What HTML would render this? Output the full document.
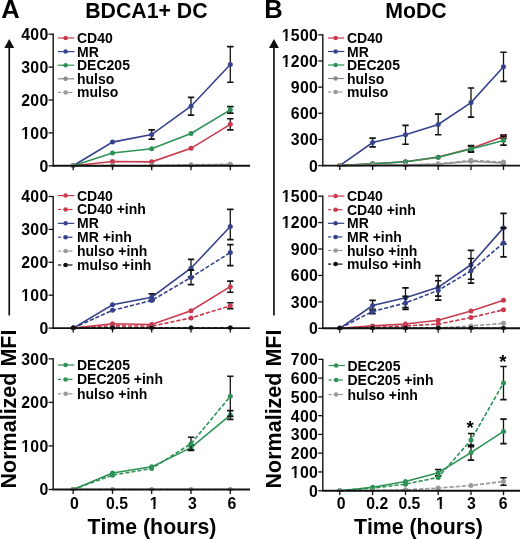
<!DOCTYPE html>
<html><head><meta charset="utf-8"><style>
html,body{margin:0;padding:0;background:#fff;}
body{width:520px;height:539px;overflow:hidden;font-family:"Liberation Sans", sans-serif;}
svg{display:block;filter:blur(0.3px);} text{font-kerning:none;}
</style></head><body>
<svg width="520" height="539" viewBox="0 0 520 539" font-family='"Liberation Sans", sans-serif'>
<rect width="520" height="539" fill="#fff"/>
<text x="1.20" y="17.80" font-size="25.6" text-anchor="start" font-weight="bold" >A</text>
<text x="264.30" y="17.80" font-size="25.6" text-anchor="start" font-weight="bold" >B</text>
<text x="146.40" y="17.90" font-size="21.3" text-anchor="middle" font-weight="bold" >BDCA1+ DC</text>
<text x="416.00" y="17.80" font-size="21.3" text-anchor="middle" font-weight="bold" >MoDC</text>
<text transform="translate(15.60,409.0) rotate(-90)" x="0" y="0" font-size="21.5" font-weight="bold" text-anchor="middle">Normalized MFI</text>
<line x1="9.25" y1="46.00" x2="9.25" y2="315.50" stroke="#111" stroke-width="1.7" />
<path d="M4.25,47.9 L9.25,38.9 L14.25,47.9 Z" fill="#111"/>
<text transform="translate(280.50,409.0) rotate(-90)" x="0" y="0" font-size="21.5" font-weight="bold" text-anchor="middle">Normalized MFI</text>
<line x1="273.95" y1="46.00" x2="273.95" y2="315.50" stroke="#111" stroke-width="1.7" />
<path d="M268.95,47.9 L273.95,38.9 L278.95,47.9 Z" fill="#111"/>
<text x="151.90" y="534.20" font-size="21.3" text-anchor="middle" font-weight="bold" >Time (hours)</text>
<text x="418.40" y="534.20" font-size="21.3" text-anchor="middle" font-weight="bold" >Time (hours)</text>
<text x="74.30" y="508.50" font-size="15.8" text-anchor="middle" font-weight="bold" >0</text>
<text x="117.00" y="508.50" font-size="15.8" text-anchor="middle" font-weight="bold" >0.5</text>
<text x="154.20" y="508.50" font-size="15.8" text-anchor="middle" font-weight="bold" >1</text>
<rect x="149.90" y="505.89" width="3.49" height="3.81" fill="#fff"/>
<rect x="155.46" y="505.89" width="3.39" height="3.81" fill="#fff"/>
<text x="192.30" y="508.50" font-size="15.8" text-anchor="middle" font-weight="bold" >3</text>
<text x="231.80" y="508.50" font-size="15.8" text-anchor="middle" font-weight="bold" >6</text>
<text x="341.20" y="508.50" font-size="15.8" text-anchor="middle" font-weight="bold" >0</text>
<text x="377.20" y="508.50" font-size="15.8" text-anchor="middle" font-weight="bold" >0.2</text>
<text x="409.40" y="508.50" font-size="15.8" text-anchor="middle" font-weight="bold" >0.5</text>
<text x="440.50" y="508.50" font-size="15.8" text-anchor="middle" font-weight="bold" >1</text>
<rect x="436.20" y="505.89" width="3.49" height="3.81" fill="#fff"/>
<rect x="441.76" y="505.89" width="3.39" height="3.81" fill="#fff"/>
<text x="471.40" y="508.50" font-size="15.8" text-anchor="middle" font-weight="bold" >3</text>
<text x="503.20" y="508.50" font-size="15.8" text-anchor="middle" font-weight="bold" >6</text>
<clipPath id="cp1"><rect x="53.20" y="20" width="466.80" height="147.20"/></clipPath>
<g clip-path="url(#cp1)">
<path d="M73.20,165.80 L112.50,161.52 L151.70,161.85 L191.00,148.36 L230.30,124.35" fill="none" stroke="#c83b4e" stroke-width="1.6"/>
<line x1="230.30" y1="118.75" x2="230.30" y2="129.94" stroke="#111" stroke-width="1.3" />
<line x1="227.10" y1="118.75" x2="233.50" y2="118.75" stroke="#111" stroke-width="1.7" />
<line x1="227.10" y1="129.94" x2="233.50" y2="129.94" stroke="#111" stroke-width="1.7" />
<circle cx="73.20" cy="165.80" r="2.5" fill="#c83b4e"/>
<circle cx="112.50" cy="161.52" r="2.5" fill="#c83b4e"/>
<circle cx="151.70" cy="161.85" r="2.5" fill="#c83b4e"/>
<circle cx="191.00" cy="148.36" r="2.5" fill="#c83b4e"/>
<circle cx="230.30" cy="124.35" r="2.5" fill="#c83b4e"/>
<path d="M73.20,165.80 L112.50,142.11 L151.70,134.55 L191.00,106.25 L230.30,64.47" fill="none" stroke="#36428b" stroke-width="1.6"/>
<line x1="151.70" y1="129.94" x2="151.70" y2="139.15" stroke="#111" stroke-width="1.3" />
<line x1="148.50" y1="129.94" x2="154.90" y2="129.94" stroke="#111" stroke-width="1.7" />
<line x1="148.50" y1="139.15" x2="154.90" y2="139.15" stroke="#111" stroke-width="1.7" />
<line x1="191.00" y1="97.37" x2="191.00" y2="115.13" stroke="#111" stroke-width="1.3" />
<line x1="187.80" y1="97.37" x2="194.20" y2="97.37" stroke="#111" stroke-width="1.7" />
<line x1="187.80" y1="115.13" x2="194.20" y2="115.13" stroke="#111" stroke-width="1.7" />
<line x1="230.30" y1="46.70" x2="230.30" y2="82.23" stroke="#111" stroke-width="1.3" />
<line x1="227.10" y1="46.70" x2="233.50" y2="46.70" stroke="#111" stroke-width="1.7" />
<line x1="227.10" y1="82.23" x2="233.50" y2="82.23" stroke="#111" stroke-width="1.7" />
<circle cx="73.20" cy="165.80" r="2.5" fill="#36428b"/>
<circle cx="112.50" cy="142.11" r="2.5" fill="#36428b"/>
<circle cx="151.70" cy="134.55" r="2.5" fill="#36428b"/>
<circle cx="191.00" cy="106.25" r="2.5" fill="#36428b"/>
<circle cx="230.30" cy="64.47" r="2.5" fill="#36428b"/>
<path d="M73.20,165.80 L112.50,152.97 L151.70,148.69 L191.00,133.56 L230.30,109.87" fill="none" stroke="#2d9256" stroke-width="1.6"/>
<line x1="230.30" y1="106.58" x2="230.30" y2="113.16" stroke="#111" stroke-width="1.3" />
<line x1="227.10" y1="106.58" x2="233.50" y2="106.58" stroke="#111" stroke-width="1.7" />
<line x1="227.10" y1="113.16" x2="233.50" y2="113.16" stroke="#111" stroke-width="1.7" />
<circle cx="73.20" cy="165.80" r="2.5" fill="#2d9256"/>
<circle cx="112.50" cy="152.97" r="2.5" fill="#2d9256"/>
<circle cx="151.70" cy="148.69" r="2.5" fill="#2d9256"/>
<circle cx="191.00" cy="133.56" r="2.5" fill="#2d9256"/>
<circle cx="230.30" cy="109.87" r="2.5" fill="#2d9256"/>
<path d="M73.20,165.80 L112.50,165.80 L151.70,165.80 L191.00,165.47 L230.30,164.81" fill="none" stroke="#8a8a8a" stroke-width="1.6"/>
<circle cx="73.20" cy="165.80" r="2.5" fill="#8a8a8a"/>
<circle cx="112.50" cy="165.80" r="2.5" fill="#8a8a8a"/>
<circle cx="151.70" cy="165.80" r="2.5" fill="#8a8a8a"/>
<circle cx="191.00" cy="165.47" r="2.5" fill="#8a8a8a"/>
<circle cx="230.30" cy="164.81" r="2.5" fill="#8a8a8a"/>
<path d="M73.20,165.80 L112.50,165.80 L151.70,165.80 L191.00,164.81 L230.30,164.16" fill="none" stroke="#9a9a9a" stroke-width="1.6" stroke-dasharray="4.2,1.9"/>
<circle cx="73.20" cy="165.80" r="2.5" fill="#9a9a9a"/>
<circle cx="112.50" cy="165.80" r="2.5" fill="#9a9a9a"/>
<circle cx="151.70" cy="165.80" r="2.5" fill="#9a9a9a"/>
<circle cx="191.00" cy="164.81" r="2.5" fill="#9a9a9a"/>
<circle cx="230.30" cy="164.16" r="2.5" fill="#9a9a9a"/>
</g>
<line x1="58.00" y1="38.00" x2="74.30" y2="38.00" stroke="#c83b4e" stroke-width="1.2" />
<circle cx="65.60" cy="38.00" r="2.25" fill="#c83b4e"/>
<text x="77.00" y="43.00" font-size="14" text-anchor="start" font-weight="bold" >CD40</text>
<line x1="58.00" y1="51.60" x2="74.30" y2="51.60" stroke="#36428b" stroke-width="1.2" />
<circle cx="65.60" cy="51.60" r="2.25" fill="#36428b"/>
<text x="77.00" y="56.60" font-size="14" text-anchor="start" font-weight="bold" >MR</text>
<line x1="58.00" y1="65.20" x2="74.30" y2="65.20" stroke="#2d9256" stroke-width="1.2" />
<circle cx="65.60" cy="65.20" r="2.25" fill="#2d9256"/>
<text x="77.00" y="70.20" font-size="14" text-anchor="start" font-weight="bold" >DEC205</text>
<line x1="58.00" y1="78.80" x2="74.30" y2="78.80" stroke="#8a8a8a" stroke-width="1.2" />
<circle cx="65.60" cy="78.80" r="2.25" fill="#8a8a8a"/>
<text x="77.00" y="83.80" font-size="14" text-anchor="start" font-weight="bold" >hulso</text>
<line x1="58.00" y1="92.40" x2="61.20" y2="92.40" stroke="#9a9a9a" stroke-width="1.2" />
<line x1="63.20" y1="92.40" x2="72.50" y2="92.40" stroke="#9a9a9a" stroke-width="1.2" />
<circle cx="65.60" cy="92.40" r="2.25" fill="#9a9a9a"/>
<text x="77.00" y="97.40" font-size="14" text-anchor="start" font-weight="bold" >mulso</text>
<clipPath id="cp2"><rect x="53.20" y="20" width="466.80" height="309.50"/></clipPath>
<g clip-path="url(#cp2)">
<path d="M73.20,328.10 L112.50,323.82 L151.70,324.48 L191.00,310.66 L230.30,286.65" fill="none" stroke="#c83b4e" stroke-width="1.6"/>
<line x1="230.30" y1="281.05" x2="230.30" y2="292.24" stroke="#111" stroke-width="1.3" />
<line x1="227.10" y1="281.05" x2="233.50" y2="281.05" stroke="#111" stroke-width="1.7" />
<line x1="227.10" y1="292.24" x2="233.50" y2="292.24" stroke="#111" stroke-width="1.7" />
<circle cx="73.20" cy="328.10" r="2.5" fill="#c83b4e"/>
<circle cx="112.50" cy="323.82" r="2.5" fill="#c83b4e"/>
<circle cx="151.70" cy="324.48" r="2.5" fill="#c83b4e"/>
<circle cx="191.00" cy="310.66" r="2.5" fill="#c83b4e"/>
<circle cx="230.30" cy="286.65" r="2.5" fill="#c83b4e"/>
<path d="M73.20,328.10 L112.50,325.80 L151.70,326.13 L191.00,317.90 L230.30,305.73" fill="none" stroke="#c83b4e" stroke-width="1.6" stroke-dasharray="4.2,1.9"/>
<line x1="230.30" y1="302.77" x2="230.30" y2="308.69" stroke="#111" stroke-width="1.3" />
<line x1="227.10" y1="302.77" x2="233.50" y2="302.77" stroke="#111" stroke-width="1.7" />
<line x1="227.10" y1="308.69" x2="233.50" y2="308.69" stroke="#111" stroke-width="1.7" />
<circle cx="73.20" cy="328.10" r="2.5" fill="#c83b4e"/>
<circle cx="112.50" cy="325.80" r="2.5" fill="#c83b4e"/>
<circle cx="151.70" cy="326.13" r="2.5" fill="#c83b4e"/>
<circle cx="191.00" cy="317.90" r="2.5" fill="#c83b4e"/>
<circle cx="230.30" cy="305.73" r="2.5" fill="#c83b4e"/>
<path d="M73.20,328.10 L112.50,304.74 L151.70,297.17 L191.00,268.22 L230.30,226.44" fill="none" stroke="#36428b" stroke-width="1.6"/>
<line x1="151.70" y1="293.88" x2="151.70" y2="300.46" stroke="#111" stroke-width="1.3" />
<line x1="148.50" y1="293.88" x2="154.90" y2="293.88" stroke="#111" stroke-width="1.7" />
<line x1="148.50" y1="300.46" x2="154.90" y2="300.46" stroke="#111" stroke-width="1.7" />
<line x1="191.00" y1="259.34" x2="191.00" y2="277.11" stroke="#111" stroke-width="1.3" />
<line x1="187.80" y1="259.34" x2="194.20" y2="259.34" stroke="#111" stroke-width="1.7" />
<line x1="187.80" y1="277.11" x2="194.20" y2="277.11" stroke="#111" stroke-width="1.7" />
<line x1="230.30" y1="209.33" x2="230.30" y2="239.60" stroke="#111" stroke-width="1.3" />
<line x1="227.10" y1="209.33" x2="233.50" y2="209.33" stroke="#111" stroke-width="1.7" />
<line x1="227.10" y1="239.60" x2="233.50" y2="239.60" stroke="#111" stroke-width="1.7" />
<circle cx="73.20" cy="328.10" r="2.5" fill="#36428b"/>
<circle cx="112.50" cy="304.74" r="2.5" fill="#36428b"/>
<circle cx="151.70" cy="297.17" r="2.5" fill="#36428b"/>
<circle cx="191.00" cy="268.22" r="2.5" fill="#36428b"/>
<circle cx="230.30" cy="226.44" r="2.5" fill="#36428b"/>
<path d="M73.20,328.10 L112.50,310.33 L151.70,300.46 L191.00,277.43 L230.30,252.43" fill="none" stroke="#36428b" stroke-width="1.6" stroke-dasharray="4.2,1.9"/>
<line x1="191.00" y1="270.20" x2="191.00" y2="284.67" stroke="#111" stroke-width="1.3" />
<line x1="187.80" y1="270.20" x2="194.20" y2="270.20" stroke="#111" stroke-width="1.7" />
<line x1="187.80" y1="284.67" x2="194.20" y2="284.67" stroke="#111" stroke-width="1.7" />
<line x1="230.30" y1="244.53" x2="230.30" y2="265.59" stroke="#111" stroke-width="1.3" />
<line x1="227.10" y1="244.53" x2="233.50" y2="244.53" stroke="#111" stroke-width="1.7" />
<line x1="227.10" y1="265.59" x2="233.50" y2="265.59" stroke="#111" stroke-width="1.7" />
<circle cx="73.20" cy="328.10" r="2.5" fill="#36428b"/>
<circle cx="112.50" cy="310.33" r="2.5" fill="#36428b"/>
<circle cx="151.70" cy="300.46" r="2.5" fill="#36428b"/>
<circle cx="191.00" cy="277.43" r="2.5" fill="#36428b"/>
<circle cx="230.30" cy="252.43" r="2.5" fill="#36428b"/>
<path d="M73.20,328.10 L112.50,327.77 L151.70,327.77 L191.00,327.77 L230.30,327.77" fill="none" stroke="#9a9a9a" stroke-width="1.6" stroke-dasharray="4.2,1.9"/>
<circle cx="73.20" cy="328.10" r="2.5" fill="#9a9a9a"/>
<circle cx="112.50" cy="327.77" r="2.5" fill="#9a9a9a"/>
<circle cx="151.70" cy="327.77" r="2.5" fill="#9a9a9a"/>
<circle cx="191.00" cy="327.77" r="2.5" fill="#9a9a9a"/>
<circle cx="230.30" cy="327.77" r="2.5" fill="#9a9a9a"/>
<path d="M73.20,328.10 L112.50,328.10 L151.70,328.10 L191.00,328.10 L230.30,328.10" fill="none" stroke="#111111" stroke-width="1.6" stroke-dasharray="4.2,1.9"/>
<circle cx="73.20" cy="328.10" r="2.5" fill="#111111"/>
<circle cx="112.50" cy="328.10" r="2.5" fill="#111111"/>
<circle cx="151.70" cy="328.10" r="2.5" fill="#111111"/>
<circle cx="191.00" cy="328.10" r="2.5" fill="#111111"/>
<circle cx="230.30" cy="328.10" r="2.5" fill="#111111"/>
</g>
<line x1="58.00" y1="195.60" x2="74.30" y2="195.60" stroke="#c83b4e" stroke-width="1.2" />
<circle cx="65.60" cy="195.60" r="2.25" fill="#c83b4e"/>
<text x="77.00" y="200.60" font-size="14" text-anchor="start" font-weight="bold" >CD40</text>
<line x1="58.00" y1="209.48" x2="61.20" y2="209.48" stroke="#c83b4e" stroke-width="1.2" />
<line x1="63.20" y1="209.48" x2="72.50" y2="209.48" stroke="#c83b4e" stroke-width="1.2" />
<circle cx="65.60" cy="209.48" r="2.25" fill="#c83b4e"/>
<text x="77.00" y="214.48" font-size="14" text-anchor="start" font-weight="bold" >CD40 +inh</text>
<line x1="58.00" y1="223.36" x2="74.30" y2="223.36" stroke="#36428b" stroke-width="1.2" />
<circle cx="65.60" cy="223.36" r="2.25" fill="#36428b"/>
<text x="77.00" y="228.36" font-size="14" text-anchor="start" font-weight="bold" >MR</text>
<line x1="58.00" y1="237.24" x2="61.20" y2="237.24" stroke="#36428b" stroke-width="1.2" />
<line x1="63.20" y1="237.24" x2="72.50" y2="237.24" stroke="#36428b" stroke-width="1.2" />
<circle cx="65.60" cy="237.24" r="2.25" fill="#36428b"/>
<text x="77.00" y="242.24" font-size="14" text-anchor="start" font-weight="bold" >MR +inh</text>
<line x1="58.00" y1="251.12" x2="61.20" y2="251.12" stroke="#9a9a9a" stroke-width="1.2" />
<line x1="63.20" y1="251.12" x2="72.50" y2="251.12" stroke="#9a9a9a" stroke-width="1.2" />
<circle cx="65.60" cy="251.12" r="2.25" fill="#9a9a9a"/>
<text x="77.00" y="256.12" font-size="14" text-anchor="start" font-weight="bold" >hulso +inh</text>
<line x1="58.00" y1="265.00" x2="61.20" y2="265.00" stroke="#111111" stroke-width="1.2" />
<line x1="63.20" y1="265.00" x2="72.50" y2="265.00" stroke="#111111" stroke-width="1.2" />
<circle cx="65.60" cy="265.00" r="2.25" fill="#111111"/>
<text x="77.00" y="270.00" font-size="14" text-anchor="start" font-weight="bold" >mulso +inh</text>
<clipPath id="cp3"><rect x="53.20" y="20" width="466.80" height="470.90"/></clipPath>
<g clip-path="url(#cp3)">
<path d="M73.20,489.50 L112.50,472.95 L151.70,466.85 L191.00,447.69 L230.30,415.03" fill="none" stroke="#2d9256" stroke-width="1.6"/>
<line x1="191.00" y1="445.51" x2="191.00" y2="449.87" stroke="#111" stroke-width="1.3" />
<line x1="187.80" y1="445.51" x2="194.20" y2="445.51" stroke="#111" stroke-width="1.7" />
<line x1="187.80" y1="449.87" x2="194.20" y2="449.87" stroke="#111" stroke-width="1.7" />
<line x1="230.30" y1="410.67" x2="230.30" y2="419.38" stroke="#111" stroke-width="1.3" />
<line x1="227.10" y1="410.67" x2="233.50" y2="410.67" stroke="#111" stroke-width="1.7" />
<line x1="227.10" y1="419.38" x2="233.50" y2="419.38" stroke="#111" stroke-width="1.7" />
<circle cx="73.20" cy="489.50" r="2.5" fill="#2d9256"/>
<circle cx="112.50" cy="472.95" r="2.5" fill="#2d9256"/>
<circle cx="151.70" cy="466.85" r="2.5" fill="#2d9256"/>
<circle cx="191.00" cy="447.69" r="2.5" fill="#2d9256"/>
<circle cx="230.30" cy="415.03" r="2.5" fill="#2d9256"/>
<path d="M73.20,489.50 L112.50,475.13 L151.70,468.60 L191.00,443.77 L230.30,396.30" fill="none" stroke="#2d9256" stroke-width="1.6" stroke-dasharray="4.2,1.9"/>
<line x1="191.00" y1="437.24" x2="191.00" y2="450.31" stroke="#111" stroke-width="1.3" />
<line x1="187.80" y1="437.24" x2="194.20" y2="437.24" stroke="#111" stroke-width="1.7" />
<line x1="187.80" y1="450.31" x2="194.20" y2="450.31" stroke="#111" stroke-width="1.7" />
<line x1="230.30" y1="376.27" x2="230.30" y2="416.34" stroke="#111" stroke-width="1.3" />
<line x1="227.10" y1="376.27" x2="233.50" y2="376.27" stroke="#111" stroke-width="1.7" />
<line x1="227.10" y1="416.34" x2="233.50" y2="416.34" stroke="#111" stroke-width="1.7" />
<circle cx="73.20" cy="489.50" r="2.5" fill="#2d9256"/>
<circle cx="112.50" cy="475.13" r="2.5" fill="#2d9256"/>
<circle cx="151.70" cy="468.60" r="2.5" fill="#2d9256"/>
<circle cx="191.00" cy="443.77" r="2.5" fill="#2d9256"/>
<circle cx="230.30" cy="396.30" r="2.5" fill="#2d9256"/>
<path d="M73.20,489.50 L112.50,489.50 L151.70,489.50 L191.00,489.50 L230.30,489.50" fill="none" stroke="#9a9a9a" stroke-width="1.6" stroke-dasharray="4.2,1.9"/>
<circle cx="73.20" cy="489.50" r="2.5" fill="#9a9a9a"/>
<circle cx="112.50" cy="489.50" r="2.5" fill="#9a9a9a"/>
<circle cx="151.70" cy="489.50" r="2.5" fill="#9a9a9a"/>
<circle cx="191.00" cy="489.50" r="2.5" fill="#9a9a9a"/>
<circle cx="230.30" cy="489.50" r="2.5" fill="#9a9a9a"/>
</g>
<line x1="58.00" y1="365.00" x2="74.30" y2="365.00" stroke="#2d9256" stroke-width="1.2" />
<circle cx="65.60" cy="365.00" r="2.25" fill="#2d9256"/>
<text x="77.00" y="370.00" font-size="14" text-anchor="start" font-weight="bold" >DEC205</text>
<line x1="58.00" y1="379.40" x2="61.20" y2="379.40" stroke="#2d9256" stroke-width="1.2" />
<line x1="63.20" y1="379.40" x2="72.50" y2="379.40" stroke="#2d9256" stroke-width="1.2" />
<circle cx="65.60" cy="379.40" r="2.25" fill="#2d9256"/>
<text x="77.00" y="384.40" font-size="14" text-anchor="start" font-weight="bold" >DEC205 +inh</text>
<line x1="58.00" y1="393.80" x2="61.20" y2="393.80" stroke="#9a9a9a" stroke-width="1.2" />
<line x1="63.20" y1="393.80" x2="72.50" y2="393.80" stroke="#9a9a9a" stroke-width="1.2" />
<circle cx="65.60" cy="393.80" r="2.25" fill="#9a9a9a"/>
<text x="77.00" y="398.80" font-size="14" text-anchor="start" font-weight="bold" >hulso +inh</text>
<clipPath id="cp4"><rect x="322.80" y="20" width="197.20" height="147.00"/></clipPath>
<g clip-path="url(#cp4)">
<path d="M339.80,165.60 L372.60,163.86 L405.50,161.68 L438.20,157.14 L471.00,148.60 L503.50,136.48" fill="none" stroke="#c83b4e" stroke-width="1.6"/>
<line x1="471.00" y1="145.98" x2="471.00" y2="151.21" stroke="#111" stroke-width="1.3" />
<line x1="467.80" y1="145.98" x2="474.20" y2="145.98" stroke="#111" stroke-width="1.7" />
<line x1="467.80" y1="151.21" x2="474.20" y2="151.21" stroke="#111" stroke-width="1.7" />
<line x1="503.50" y1="134.91" x2="503.50" y2="138.04" stroke="#111" stroke-width="1.3" />
<line x1="500.30" y1="134.91" x2="506.70" y2="134.91" stroke="#111" stroke-width="1.7" />
<line x1="500.30" y1="138.04" x2="506.70" y2="138.04" stroke="#111" stroke-width="1.7" />
<circle cx="339.80" cy="165.60" r="2.5" fill="#c83b4e"/>
<circle cx="372.60" cy="163.86" r="2.5" fill="#c83b4e"/>
<circle cx="405.50" cy="161.68" r="2.5" fill="#c83b4e"/>
<circle cx="438.20" cy="157.14" r="2.5" fill="#c83b4e"/>
<circle cx="471.00" cy="148.60" r="2.5" fill="#c83b4e"/>
<circle cx="503.50" cy="136.48" r="2.5" fill="#c83b4e"/>
<path d="M339.80,165.60 L372.60,142.49 L405.50,134.82 L438.20,124.44 L471.00,102.55 L503.50,66.80" fill="none" stroke="#36428b" stroke-width="1.6"/>
<line x1="372.60" y1="138.13" x2="372.60" y2="146.85" stroke="#111" stroke-width="1.3" />
<line x1="369.40" y1="138.13" x2="375.80" y2="138.13" stroke="#111" stroke-width="1.7" />
<line x1="369.40" y1="146.85" x2="375.80" y2="146.85" stroke="#111" stroke-width="1.7" />
<line x1="405.50" y1="125.40" x2="405.50" y2="144.24" stroke="#111" stroke-width="1.3" />
<line x1="402.30" y1="125.40" x2="408.70" y2="125.40" stroke="#111" stroke-width="1.7" />
<line x1="402.30" y1="144.24" x2="408.70" y2="144.24" stroke="#111" stroke-width="1.7" />
<line x1="438.20" y1="114.15" x2="438.20" y2="134.73" stroke="#111" stroke-width="1.3" />
<line x1="435.00" y1="114.15" x2="441.40" y2="114.15" stroke="#111" stroke-width="1.7" />
<line x1="435.00" y1="134.73" x2="441.40" y2="134.73" stroke="#111" stroke-width="1.7" />
<line x1="471.00" y1="87.99" x2="471.00" y2="117.12" stroke="#111" stroke-width="1.3" />
<line x1="467.80" y1="87.99" x2="474.20" y2="87.99" stroke="#111" stroke-width="1.7" />
<line x1="467.80" y1="117.12" x2="474.20" y2="117.12" stroke="#111" stroke-width="1.7" />
<line x1="503.50" y1="52.24" x2="503.50" y2="81.36" stroke="#111" stroke-width="1.3" />
<line x1="500.30" y1="52.24" x2="506.70" y2="52.24" stroke="#111" stroke-width="1.7" />
<line x1="500.30" y1="81.36" x2="506.70" y2="81.36" stroke="#111" stroke-width="1.7" />
<circle cx="339.80" cy="165.60" r="2.5" fill="#36428b"/>
<circle cx="372.60" cy="142.49" r="2.5" fill="#36428b"/>
<circle cx="405.50" cy="134.82" r="2.5" fill="#36428b"/>
<circle cx="438.20" cy="124.44" r="2.5" fill="#36428b"/>
<circle cx="471.00" cy="102.55" r="2.5" fill="#36428b"/>
<circle cx="503.50" cy="66.80" r="2.5" fill="#36428b"/>
<path d="M339.80,165.60 L372.60,163.86 L405.50,161.68 L438.20,157.32 L471.00,148.94 L503.50,140.57" fill="none" stroke="#2d9256" stroke-width="1.6"/>
<line x1="471.00" y1="145.63" x2="471.00" y2="152.26" stroke="#111" stroke-width="1.3" />
<line x1="467.80" y1="145.63" x2="474.20" y2="145.63" stroke="#111" stroke-width="1.7" />
<line x1="467.80" y1="152.26" x2="474.20" y2="152.26" stroke="#111" stroke-width="1.7" />
<line x1="503.50" y1="136.21" x2="503.50" y2="145.20" stroke="#111" stroke-width="1.3" />
<line x1="500.30" y1="136.21" x2="506.70" y2="136.21" stroke="#111" stroke-width="1.7" />
<line x1="500.30" y1="145.20" x2="506.70" y2="145.20" stroke="#111" stroke-width="1.7" />
<circle cx="339.80" cy="165.60" r="2.5" fill="#2d9256"/>
<circle cx="372.60" cy="163.86" r="2.5" fill="#2d9256"/>
<circle cx="405.50" cy="161.68" r="2.5" fill="#2d9256"/>
<circle cx="438.20" cy="157.32" r="2.5" fill="#2d9256"/>
<circle cx="471.00" cy="148.94" r="2.5" fill="#2d9256"/>
<circle cx="503.50" cy="140.57" r="2.5" fill="#2d9256"/>
<path d="M339.80,165.60 L372.60,165.25 L405.50,165.08 L438.20,164.29 L471.00,161.24 L503.50,162.98" fill="none" stroke="#8a8a8a" stroke-width="1.6"/>
<circle cx="339.80" cy="165.60" r="2.5" fill="#8a8a8a"/>
<circle cx="372.60" cy="165.25" r="2.5" fill="#8a8a8a"/>
<circle cx="405.50" cy="165.08" r="2.5" fill="#8a8a8a"/>
<circle cx="438.20" cy="164.29" r="2.5" fill="#8a8a8a"/>
<circle cx="471.00" cy="161.24" r="2.5" fill="#8a8a8a"/>
<circle cx="503.50" cy="162.98" r="2.5" fill="#8a8a8a"/>
<path d="M339.80,165.60 L372.60,165.16 L405.50,164.90 L438.20,163.86 L471.00,160.37 L503.50,162.11" fill="none" stroke="#9a9a9a" stroke-width="1.6" stroke-dasharray="4.2,1.9"/>
<circle cx="339.80" cy="165.60" r="2.5" fill="#9a9a9a"/>
<circle cx="372.60" cy="165.16" r="2.5" fill="#9a9a9a"/>
<circle cx="405.50" cy="164.90" r="2.5" fill="#9a9a9a"/>
<circle cx="438.20" cy="163.86" r="2.5" fill="#9a9a9a"/>
<circle cx="471.00" cy="160.37" r="2.5" fill="#9a9a9a"/>
<circle cx="503.50" cy="162.11" r="2.5" fill="#9a9a9a"/>
</g>
<line x1="328.00" y1="38.00" x2="344.30" y2="38.00" stroke="#c83b4e" stroke-width="1.2" />
<circle cx="335.60" cy="38.00" r="2.25" fill="#c83b4e"/>
<text x="347.00" y="43.00" font-size="14" text-anchor="start" font-weight="bold" >CD40</text>
<line x1="328.00" y1="51.50" x2="344.30" y2="51.50" stroke="#36428b" stroke-width="1.2" />
<circle cx="335.60" cy="51.50" r="2.25" fill="#36428b"/>
<text x="347.00" y="56.50" font-size="14" text-anchor="start" font-weight="bold" >MR</text>
<line x1="328.00" y1="65.00" x2="344.30" y2="65.00" stroke="#2d9256" stroke-width="1.2" />
<circle cx="335.60" cy="65.00" r="2.25" fill="#2d9256"/>
<text x="347.00" y="70.00" font-size="14" text-anchor="start" font-weight="bold" >DEC205</text>
<line x1="328.00" y1="78.50" x2="344.30" y2="78.50" stroke="#8a8a8a" stroke-width="1.2" />
<circle cx="335.60" cy="78.50" r="2.25" fill="#8a8a8a"/>
<text x="347.00" y="83.50" font-size="14" text-anchor="start" font-weight="bold" >hulso</text>
<line x1="328.00" y1="92.00" x2="331.20" y2="92.00" stroke="#9a9a9a" stroke-width="1.2" />
<line x1="333.20" y1="92.00" x2="342.50" y2="92.00" stroke="#9a9a9a" stroke-width="1.2" />
<circle cx="335.60" cy="92.00" r="2.25" fill="#9a9a9a"/>
<text x="347.00" y="97.00" font-size="14" text-anchor="start" font-weight="bold" >mulso</text>
<clipPath id="cp5"><rect x="322.80" y="20" width="197.20" height="309.70"/></clipPath>
<g clip-path="url(#cp5)">
<path d="M339.80,328.30 L372.60,325.92 L405.50,324.07 L438.20,320.19 L471.00,311.03 L503.50,300.28" fill="none" stroke="#c83b4e" stroke-width="1.6"/>
<circle cx="339.80" cy="328.30" r="2.5" fill="#c83b4e"/>
<circle cx="372.60" cy="325.92" r="2.5" fill="#c83b4e"/>
<circle cx="405.50" cy="324.07" r="2.5" fill="#c83b4e"/>
<circle cx="438.20" cy="320.19" r="2.5" fill="#c83b4e"/>
<circle cx="471.00" cy="311.03" r="2.5" fill="#c83b4e"/>
<circle cx="503.50" cy="300.28" r="2.5" fill="#c83b4e"/>
<path d="M339.80,328.30 L372.60,327.42 L405.50,325.92 L438.20,324.07 L471.00,317.55 L503.50,309.80" fill="none" stroke="#c83b4e" stroke-width="1.6" stroke-dasharray="4.2,1.9"/>
<circle cx="339.80" cy="328.30" r="2.5" fill="#c83b4e"/>
<circle cx="372.60" cy="327.42" r="2.5" fill="#c83b4e"/>
<circle cx="405.50" cy="325.92" r="2.5" fill="#c83b4e"/>
<circle cx="438.20" cy="324.07" r="2.5" fill="#c83b4e"/>
<circle cx="471.00" cy="317.55" r="2.5" fill="#c83b4e"/>
<circle cx="503.50" cy="309.80" r="2.5" fill="#c83b4e"/>
<path d="M339.80,328.30 L372.60,305.48 L405.50,297.73 L438.20,287.33 L471.00,264.78 L503.50,227.87" fill="none" stroke="#36428b" stroke-width="1.6"/>
<line x1="372.60" y1="300.28" x2="372.60" y2="310.68" stroke="#111" stroke-width="1.3" />
<line x1="369.40" y1="300.28" x2="375.80" y2="300.28" stroke="#111" stroke-width="1.7" />
<line x1="369.40" y1="310.68" x2="375.80" y2="310.68" stroke="#111" stroke-width="1.7" />
<line x1="405.50" y1="287.86" x2="405.50" y2="307.60" stroke="#111" stroke-width="1.3" />
<line x1="402.30" y1="287.86" x2="408.70" y2="287.86" stroke="#111" stroke-width="1.7" />
<line x1="402.30" y1="307.60" x2="408.70" y2="307.60" stroke="#111" stroke-width="1.7" />
<line x1="438.20" y1="275.53" x2="438.20" y2="296.06" stroke="#111" stroke-width="1.3" />
<line x1="435.00" y1="275.53" x2="441.40" y2="275.53" stroke="#111" stroke-width="1.7" />
<line x1="435.00" y1="296.06" x2="441.40" y2="296.06" stroke="#111" stroke-width="1.7" />
<line x1="471.00" y1="250.33" x2="471.00" y2="279.23" stroke="#111" stroke-width="1.3" />
<line x1="467.80" y1="250.33" x2="474.20" y2="250.33" stroke="#111" stroke-width="1.7" />
<line x1="467.80" y1="279.23" x2="474.20" y2="279.23" stroke="#111" stroke-width="1.7" />
<line x1="503.50" y1="213.33" x2="503.50" y2="243.99" stroke="#111" stroke-width="1.3" />
<line x1="500.30" y1="213.33" x2="506.70" y2="213.33" stroke="#111" stroke-width="1.7" />
<line x1="500.30" y1="243.99" x2="506.70" y2="243.99" stroke="#111" stroke-width="1.7" />
<circle cx="339.80" cy="328.30" r="2.5" fill="#36428b"/>
<circle cx="372.60" cy="305.48" r="2.5" fill="#36428b"/>
<circle cx="405.50" cy="297.73" r="2.5" fill="#36428b"/>
<circle cx="438.20" cy="287.33" r="2.5" fill="#36428b"/>
<circle cx="471.00" cy="264.78" r="2.5" fill="#36428b"/>
<circle cx="503.50" cy="227.87" r="2.5" fill="#36428b"/>
<path d="M339.80,328.30 L372.60,311.47 L405.50,302.93 L438.20,290.42 L471.00,270.86 L503.50,242.93" fill="none" stroke="#36428b" stroke-width="1.6" stroke-dasharray="4.2,1.9"/>
<line x1="372.60" y1="309.36" x2="372.60" y2="313.59" stroke="#111" stroke-width="1.3" />
<line x1="369.40" y1="309.36" x2="375.80" y2="309.36" stroke="#111" stroke-width="1.7" />
<line x1="369.40" y1="313.59" x2="375.80" y2="313.59" stroke="#111" stroke-width="1.7" />
<line x1="405.50" y1="296.41" x2="405.50" y2="309.45" stroke="#111" stroke-width="1.3" />
<line x1="402.30" y1="296.41" x2="408.70" y2="296.41" stroke="#111" stroke-width="1.7" />
<line x1="402.30" y1="309.45" x2="408.70" y2="309.45" stroke="#111" stroke-width="1.7" />
<line x1="438.20" y1="280.73" x2="438.20" y2="300.11" stroke="#111" stroke-width="1.3" />
<line x1="435.00" y1="280.73" x2="441.40" y2="280.73" stroke="#111" stroke-width="1.7" />
<line x1="435.00" y1="300.11" x2="441.40" y2="300.11" stroke="#111" stroke-width="1.7" />
<line x1="471.00" y1="258.52" x2="471.00" y2="283.19" stroke="#111" stroke-width="1.3" />
<line x1="467.80" y1="258.52" x2="474.20" y2="258.52" stroke="#111" stroke-width="1.7" />
<line x1="467.80" y1="283.19" x2="474.20" y2="283.19" stroke="#111" stroke-width="1.7" />
<line x1="503.50" y1="227.95" x2="503.50" y2="256.85" stroke="#111" stroke-width="1.3" />
<line x1="500.30" y1="227.95" x2="506.70" y2="227.95" stroke="#111" stroke-width="1.7" />
<line x1="500.30" y1="256.85" x2="506.70" y2="256.85" stroke="#111" stroke-width="1.7" />
<circle cx="339.80" cy="328.30" r="2.5" fill="#36428b"/>
<circle cx="372.60" cy="311.47" r="2.5" fill="#36428b"/>
<circle cx="405.50" cy="302.93" r="2.5" fill="#36428b"/>
<circle cx="438.20" cy="290.42" r="2.5" fill="#36428b"/>
<circle cx="471.00" cy="270.86" r="2.5" fill="#36428b"/>
<circle cx="503.50" cy="242.93" r="2.5" fill="#36428b"/>
<path d="M339.80,328.30 L372.60,328.30 L405.50,328.30 L438.20,327.86 L471.00,325.92 L503.50,323.28" fill="none" stroke="#9a9a9a" stroke-width="1.6" stroke-dasharray="4.2,1.9"/>
<circle cx="339.80" cy="328.30" r="2.5" fill="#9a9a9a"/>
<circle cx="372.60" cy="328.30" r="2.5" fill="#9a9a9a"/>
<circle cx="405.50" cy="328.30" r="2.5" fill="#9a9a9a"/>
<circle cx="438.20" cy="327.86" r="2.5" fill="#9a9a9a"/>
<circle cx="471.00" cy="325.92" r="2.5" fill="#9a9a9a"/>
<circle cx="503.50" cy="323.28" r="2.5" fill="#9a9a9a"/>
<path d="M339.80,328.30 L372.60,328.30 L405.50,328.30 L438.20,328.30 L471.00,328.30 L503.50,328.30" fill="none" stroke="#111111" stroke-width="1.6" stroke-dasharray="4.2,1.9"/>
<circle cx="339.80" cy="328.30" r="2.5" fill="#111111"/>
<circle cx="372.60" cy="328.30" r="2.5" fill="#111111"/>
<circle cx="405.50" cy="328.30" r="2.5" fill="#111111"/>
<circle cx="438.20" cy="328.30" r="2.5" fill="#111111"/>
<circle cx="471.00" cy="328.30" r="2.5" fill="#111111"/>
<circle cx="503.50" cy="328.30" r="2.5" fill="#111111"/>
</g>
<line x1="328.00" y1="196.10" x2="344.30" y2="196.10" stroke="#c83b4e" stroke-width="1.2" />
<circle cx="335.60" cy="196.10" r="2.25" fill="#c83b4e"/>
<text x="347.00" y="201.10" font-size="14" text-anchor="start" font-weight="bold" >CD40</text>
<line x1="328.00" y1="209.70" x2="331.20" y2="209.70" stroke="#c83b4e" stroke-width="1.2" />
<line x1="333.20" y1="209.70" x2="342.50" y2="209.70" stroke="#c83b4e" stroke-width="1.2" />
<circle cx="335.60" cy="209.70" r="2.25" fill="#c83b4e"/>
<text x="347.00" y="214.70" font-size="14" text-anchor="start" font-weight="bold" >CD40 +inh</text>
<line x1="328.00" y1="223.30" x2="344.30" y2="223.30" stroke="#36428b" stroke-width="1.2" />
<circle cx="335.60" cy="223.30" r="2.25" fill="#36428b"/>
<text x="347.00" y="228.30" font-size="14" text-anchor="start" font-weight="bold" >MR</text>
<line x1="328.00" y1="236.90" x2="331.20" y2="236.90" stroke="#36428b" stroke-width="1.2" />
<line x1="333.20" y1="236.90" x2="342.50" y2="236.90" stroke="#36428b" stroke-width="1.2" />
<circle cx="335.60" cy="236.90" r="2.25" fill="#36428b"/>
<text x="347.00" y="241.90" font-size="14" text-anchor="start" font-weight="bold" >MR +inh</text>
<line x1="328.00" y1="250.50" x2="331.20" y2="250.50" stroke="#9a9a9a" stroke-width="1.2" />
<line x1="333.20" y1="250.50" x2="342.50" y2="250.50" stroke="#9a9a9a" stroke-width="1.2" />
<circle cx="335.60" cy="250.50" r="2.25" fill="#9a9a9a"/>
<text x="347.00" y="255.50" font-size="14" text-anchor="start" font-weight="bold" >hulso +inh</text>
<line x1="328.00" y1="264.10" x2="331.20" y2="264.10" stroke="#111111" stroke-width="1.2" />
<line x1="333.20" y1="264.10" x2="342.50" y2="264.10" stroke="#111111" stroke-width="1.2" />
<circle cx="335.60" cy="264.10" r="2.25" fill="#111111"/>
<text x="347.00" y="269.10" font-size="14" text-anchor="start" font-weight="bold" >mulso +inh</text>
<clipPath id="cp6"><rect x="322.80" y="20" width="197.20" height="472.10"/></clipPath>
<g clip-path="url(#cp6)">
<path d="M339.80,490.70 L372.60,487.32 L405.50,481.51 L438.20,472.69 L471.00,452.62 L503.50,431.42" fill="none" stroke="#2d9256" stroke-width="1.6"/>
<line x1="438.20" y1="469.50" x2="438.20" y2="475.88" stroke="#111" stroke-width="1.3" />
<line x1="435.00" y1="469.50" x2="441.40" y2="469.50" stroke="#111" stroke-width="1.7" />
<line x1="435.00" y1="475.88" x2="441.40" y2="475.88" stroke="#111" stroke-width="1.7" />
<line x1="471.00" y1="445.11" x2="471.00" y2="460.12" stroke="#111" stroke-width="1.3" />
<line x1="467.80" y1="445.11" x2="474.20" y2="445.11" stroke="#111" stroke-width="1.7" />
<line x1="467.80" y1="460.12" x2="474.20" y2="460.12" stroke="#111" stroke-width="1.7" />
<line x1="503.50" y1="419.22" x2="503.50" y2="443.61" stroke="#111" stroke-width="1.3" />
<line x1="500.30" y1="419.22" x2="506.70" y2="419.22" stroke="#111" stroke-width="1.7" />
<line x1="500.30" y1="443.61" x2="506.70" y2="443.61" stroke="#111" stroke-width="1.7" />
<circle cx="339.80" cy="490.70" r="2.5" fill="#2d9256"/>
<circle cx="372.60" cy="487.32" r="2.5" fill="#2d9256"/>
<circle cx="405.50" cy="481.51" r="2.5" fill="#2d9256"/>
<circle cx="438.20" cy="472.69" r="2.5" fill="#2d9256"/>
<circle cx="471.00" cy="452.62" r="2.5" fill="#2d9256"/>
<circle cx="503.50" cy="431.42" r="2.5" fill="#2d9256"/>
<path d="M339.80,490.70 L372.60,488.07 L405.50,484.13 L438.20,477.38 L471.00,440.05 L503.50,383.02" fill="none" stroke="#2d9256" stroke-width="1.6" stroke-dasharray="4.2,1.9"/>
<line x1="471.00" y1="433.48" x2="471.00" y2="446.61" stroke="#111" stroke-width="1.3" />
<line x1="467.80" y1="433.48" x2="474.20" y2="433.48" stroke="#111" stroke-width="1.7" />
<line x1="467.80" y1="446.61" x2="474.20" y2="446.61" stroke="#111" stroke-width="1.7" />
<line x1="503.50" y1="366.51" x2="503.50" y2="399.53" stroke="#111" stroke-width="1.3" />
<line x1="500.30" y1="366.51" x2="506.70" y2="366.51" stroke="#111" stroke-width="1.7" />
<line x1="500.30" y1="399.53" x2="506.70" y2="399.53" stroke="#111" stroke-width="1.7" />
<circle cx="339.80" cy="490.70" r="2.5" fill="#2d9256"/>
<circle cx="372.60" cy="488.07" r="2.5" fill="#2d9256"/>
<circle cx="405.50" cy="484.13" r="2.5" fill="#2d9256"/>
<circle cx="438.20" cy="477.38" r="2.5" fill="#2d9256"/>
<circle cx="471.00" cy="440.05" r="2.5" fill="#2d9256"/>
<circle cx="503.50" cy="383.02" r="2.5" fill="#2d9256"/>
<path d="M339.80,490.70 L372.60,490.70 L405.50,489.76 L438.20,488.07 L471.00,485.45 L503.50,481.51" fill="none" stroke="#9a9a9a" stroke-width="1.6" stroke-dasharray="4.2,1.9"/>
<line x1="503.50" y1="477.76" x2="503.50" y2="485.26" stroke="#111" stroke-width="1.3" />
<line x1="500.30" y1="477.76" x2="506.70" y2="477.76" stroke="#111" stroke-width="1.7" />
<line x1="500.30" y1="485.26" x2="506.70" y2="485.26" stroke="#111" stroke-width="1.7" />
<circle cx="339.80" cy="490.70" r="2.5" fill="#9a9a9a"/>
<circle cx="372.60" cy="490.70" r="2.5" fill="#9a9a9a"/>
<circle cx="405.50" cy="489.76" r="2.5" fill="#9a9a9a"/>
<circle cx="438.20" cy="488.07" r="2.5" fill="#9a9a9a"/>
<circle cx="471.00" cy="485.45" r="2.5" fill="#9a9a9a"/>
<circle cx="503.50" cy="481.51" r="2.5" fill="#9a9a9a"/>
</g>
<line x1="328.50" y1="365.50" x2="344.80" y2="365.50" stroke="#2d9256" stroke-width="1.2" />
<circle cx="336.10" cy="365.50" r="2.25" fill="#2d9256"/>
<text x="347.50" y="370.50" font-size="14" text-anchor="start" font-weight="bold" >DEC205</text>
<line x1="328.50" y1="380.00" x2="331.70" y2="380.00" stroke="#2d9256" stroke-width="1.2" />
<line x1="333.70" y1="380.00" x2="343.00" y2="380.00" stroke="#2d9256" stroke-width="1.2" />
<circle cx="336.10" cy="380.00" r="2.25" fill="#2d9256"/>
<text x="347.50" y="385.00" font-size="14" text-anchor="start" font-weight="bold" >DEC205 +inh</text>
<line x1="328.50" y1="394.50" x2="331.70" y2="394.50" stroke="#9a9a9a" stroke-width="1.2" />
<line x1="333.70" y1="394.50" x2="343.00" y2="394.50" stroke="#9a9a9a" stroke-width="1.2" />
<circle cx="336.10" cy="394.50" r="2.25" fill="#9a9a9a"/>
<text x="347.50" y="399.50" font-size="14" text-anchor="start" font-weight="bold" >hulso +inh</text>
<text x="470.20" y="433.60" font-size="18.5" text-anchor="middle" font-weight="bold" >*</text>
<text x="502.80" y="367.80" font-size="18.5" text-anchor="middle" font-weight="bold" >*</text>
<line x1="53.20" y1="33.60" x2="53.20" y2="166.40" stroke="#111" stroke-width="1.4" />
<line x1="48.60" y1="165.80" x2="53.20" y2="165.80" stroke="#111" stroke-width="1.3" />
<text x="48.50" y="171.70" font-size="15.8" text-anchor="end" font-weight="bold" letter-spacing="0.3">0</text>
<line x1="48.60" y1="132.90" x2="53.20" y2="132.90" stroke="#111" stroke-width="1.3" />
<text x="48.50" y="138.80" font-size="15.8" text-anchor="end" font-weight="bold" letter-spacing="0.3">100</text>
<rect x="21.33" y="136.19" width="3.49" height="3.81" fill="#fff"/>
<rect x="26.89" y="136.19" width="3.39" height="3.81" fill="#fff"/>
<line x1="48.60" y1="100.00" x2="53.20" y2="100.00" stroke="#111" stroke-width="1.3" />
<text x="48.50" y="105.90" font-size="15.8" text-anchor="end" font-weight="bold" letter-spacing="0.3">200</text>
<line x1="48.60" y1="67.10" x2="53.20" y2="67.10" stroke="#111" stroke-width="1.3" />
<text x="48.50" y="73.00" font-size="15.8" text-anchor="end" font-weight="bold" letter-spacing="0.3">300</text>
<line x1="48.60" y1="34.20" x2="53.20" y2="34.20" stroke="#111" stroke-width="1.3" />
<text x="48.50" y="40.10" font-size="15.8" text-anchor="end" font-weight="bold" letter-spacing="0.3">400</text>
<line x1="52.50" y1="165.80" x2="250.00" y2="165.80" stroke="#111" stroke-width="1.9" />
<line x1="73.20" y1="165.80" x2="73.20" y2="170.20" stroke="#111" stroke-width="1.3" />
<line x1="112.50" y1="165.80" x2="112.50" y2="170.20" stroke="#111" stroke-width="1.3" />
<line x1="151.70" y1="165.80" x2="151.70" y2="170.20" stroke="#111" stroke-width="1.3" />
<line x1="191.00" y1="165.80" x2="191.00" y2="170.20" stroke="#111" stroke-width="1.3" />
<line x1="230.30" y1="165.80" x2="230.30" y2="170.20" stroke="#111" stroke-width="1.3" />
<line x1="53.20" y1="195.90" x2="53.20" y2="328.70" stroke="#111" stroke-width="1.4" />
<line x1="48.60" y1="328.10" x2="53.20" y2="328.10" stroke="#111" stroke-width="1.3" />
<text x="48.50" y="334.00" font-size="15.8" text-anchor="end" font-weight="bold" letter-spacing="0.3">0</text>
<line x1="48.60" y1="295.20" x2="53.20" y2="295.20" stroke="#111" stroke-width="1.3" />
<text x="48.50" y="301.10" font-size="15.8" text-anchor="end" font-weight="bold" letter-spacing="0.3">100</text>
<rect x="21.33" y="298.49" width="3.49" height="3.81" fill="#fff"/>
<rect x="26.89" y="298.49" width="3.39" height="3.81" fill="#fff"/>
<line x1="48.60" y1="262.30" x2="53.20" y2="262.30" stroke="#111" stroke-width="1.3" />
<text x="48.50" y="268.20" font-size="15.8" text-anchor="end" font-weight="bold" letter-spacing="0.3">200</text>
<line x1="48.60" y1="229.40" x2="53.20" y2="229.40" stroke="#111" stroke-width="1.3" />
<text x="48.50" y="235.30" font-size="15.8" text-anchor="end" font-weight="bold" letter-spacing="0.3">300</text>
<line x1="48.60" y1="196.50" x2="53.20" y2="196.50" stroke="#111" stroke-width="1.3" />
<text x="48.50" y="202.40" font-size="15.8" text-anchor="end" font-weight="bold" letter-spacing="0.3">400</text>
<line x1="52.50" y1="328.10" x2="250.00" y2="328.10" stroke="#111" stroke-width="1.9" />
<line x1="73.20" y1="328.10" x2="73.20" y2="332.50" stroke="#111" stroke-width="1.3" />
<line x1="112.50" y1="328.10" x2="112.50" y2="332.50" stroke="#111" stroke-width="1.3" />
<line x1="151.70" y1="328.10" x2="151.70" y2="332.50" stroke="#111" stroke-width="1.3" />
<line x1="191.00" y1="328.10" x2="191.00" y2="332.50" stroke="#111" stroke-width="1.3" />
<line x1="230.30" y1="328.10" x2="230.30" y2="332.50" stroke="#111" stroke-width="1.3" />
<line x1="53.20" y1="358.25" x2="53.20" y2="490.10" stroke="#111" stroke-width="1.4" />
<line x1="48.60" y1="489.50" x2="53.20" y2="489.50" stroke="#111" stroke-width="1.3" />
<text x="48.50" y="495.40" font-size="15.8" text-anchor="end" font-weight="bold" letter-spacing="0.3">0</text>
<line x1="48.60" y1="445.95" x2="53.20" y2="445.95" stroke="#111" stroke-width="1.3" />
<text x="48.50" y="451.85" font-size="15.8" text-anchor="end" font-weight="bold" letter-spacing="0.3">100</text>
<rect x="21.33" y="449.24" width="3.49" height="3.81" fill="#fff"/>
<rect x="26.89" y="449.24" width="3.39" height="3.81" fill="#fff"/>
<line x1="48.60" y1="402.40" x2="53.20" y2="402.40" stroke="#111" stroke-width="1.3" />
<text x="48.50" y="408.30" font-size="15.8" text-anchor="end" font-weight="bold" letter-spacing="0.3">200</text>
<line x1="48.60" y1="358.85" x2="53.20" y2="358.85" stroke="#111" stroke-width="1.3" />
<text x="48.50" y="364.75" font-size="15.8" text-anchor="end" font-weight="bold" letter-spacing="0.3">300</text>
<line x1="52.50" y1="489.50" x2="250.00" y2="489.50" stroke="#111" stroke-width="1.9" />
<line x1="73.20" y1="489.50" x2="73.20" y2="493.90" stroke="#111" stroke-width="1.3" />
<line x1="112.50" y1="489.50" x2="112.50" y2="493.90" stroke="#111" stroke-width="1.3" />
<line x1="151.70" y1="489.50" x2="151.70" y2="493.90" stroke="#111" stroke-width="1.3" />
<line x1="191.00" y1="489.50" x2="191.00" y2="493.90" stroke="#111" stroke-width="1.3" />
<line x1="230.30" y1="489.50" x2="230.30" y2="493.90" stroke="#111" stroke-width="1.3" />
<line x1="322.80" y1="34.20" x2="322.80" y2="166.20" stroke="#111" stroke-width="1.4" />
<line x1="318.20" y1="165.60" x2="322.80" y2="165.60" stroke="#111" stroke-width="1.3" />
<text x="318.10" y="171.50" font-size="15.8" text-anchor="end" font-weight="bold" letter-spacing="0.3">0</text>
<line x1="318.20" y1="139.44" x2="322.80" y2="139.44" stroke="#111" stroke-width="1.3" />
<text x="318.10" y="145.34" font-size="15.8" text-anchor="end" font-weight="bold" letter-spacing="0.3">300</text>
<line x1="318.20" y1="113.28" x2="322.80" y2="113.28" stroke="#111" stroke-width="1.3" />
<text x="318.10" y="119.18" font-size="15.8" text-anchor="end" font-weight="bold" letter-spacing="0.3">600</text>
<line x1="318.20" y1="87.12" x2="322.80" y2="87.12" stroke="#111" stroke-width="1.3" />
<text x="318.10" y="93.02" font-size="15.8" text-anchor="end" font-weight="bold" letter-spacing="0.3">900</text>
<line x1="318.20" y1="60.96" x2="322.80" y2="60.96" stroke="#111" stroke-width="1.3" />
<text x="318.10" y="66.86" font-size="15.8" text-anchor="end" font-weight="bold" letter-spacing="0.3">1200</text>
<rect x="281.85" y="64.25" width="3.49" height="3.81" fill="#fff"/>
<rect x="287.41" y="64.25" width="3.39" height="3.81" fill="#fff"/>
<line x1="318.20" y1="34.80" x2="322.80" y2="34.80" stroke="#111" stroke-width="1.3" />
<text x="318.10" y="40.70" font-size="15.8" text-anchor="end" font-weight="bold" letter-spacing="0.3">1500</text>
<rect x="281.85" y="38.09" width="3.49" height="3.81" fill="#fff"/>
<rect x="287.41" y="38.09" width="3.39" height="3.81" fill="#fff"/>
<line x1="322.10" y1="165.60" x2="520.00" y2="165.60" stroke="#111" stroke-width="1.9" />
<line x1="339.80" y1="165.60" x2="339.80" y2="170.00" stroke="#111" stroke-width="1.3" />
<line x1="372.60" y1="165.60" x2="372.60" y2="170.00" stroke="#111" stroke-width="1.3" />
<line x1="405.50" y1="165.60" x2="405.50" y2="170.00" stroke="#111" stroke-width="1.3" />
<line x1="438.20" y1="165.60" x2="438.20" y2="170.00" stroke="#111" stroke-width="1.3" />
<line x1="471.00" y1="165.60" x2="471.00" y2="170.00" stroke="#111" stroke-width="1.3" />
<line x1="503.50" y1="165.60" x2="503.50" y2="170.00" stroke="#111" stroke-width="1.3" />
<line x1="322.80" y1="195.55" x2="322.80" y2="328.90" stroke="#111" stroke-width="1.4" />
<line x1="318.20" y1="328.30" x2="322.80" y2="328.30" stroke="#111" stroke-width="1.3" />
<text x="318.10" y="334.20" font-size="15.8" text-anchor="end" font-weight="bold" letter-spacing="0.3">0</text>
<line x1="318.20" y1="301.87" x2="322.80" y2="301.87" stroke="#111" stroke-width="1.3" />
<text x="318.10" y="307.77" font-size="15.8" text-anchor="end" font-weight="bold" letter-spacing="0.3">300</text>
<line x1="318.20" y1="275.44" x2="322.80" y2="275.44" stroke="#111" stroke-width="1.3" />
<text x="318.10" y="281.34" font-size="15.8" text-anchor="end" font-weight="bold" letter-spacing="0.3">600</text>
<line x1="318.20" y1="249.01" x2="322.80" y2="249.01" stroke="#111" stroke-width="1.3" />
<text x="318.10" y="254.91" font-size="15.8" text-anchor="end" font-weight="bold" letter-spacing="0.3">900</text>
<line x1="318.20" y1="222.58" x2="322.80" y2="222.58" stroke="#111" stroke-width="1.3" />
<text x="318.10" y="228.48" font-size="15.8" text-anchor="end" font-weight="bold" letter-spacing="0.3">1200</text>
<rect x="281.85" y="225.87" width="3.49" height="3.81" fill="#fff"/>
<rect x="287.41" y="225.87" width="3.39" height="3.81" fill="#fff"/>
<line x1="318.20" y1="196.15" x2="322.80" y2="196.15" stroke="#111" stroke-width="1.3" />
<text x="318.10" y="202.05" font-size="15.8" text-anchor="end" font-weight="bold" letter-spacing="0.3">1500</text>
<rect x="281.85" y="199.44" width="3.49" height="3.81" fill="#fff"/>
<rect x="287.41" y="199.44" width="3.39" height="3.81" fill="#fff"/>
<line x1="322.10" y1="328.30" x2="520.00" y2="328.30" stroke="#111" stroke-width="1.9" />
<line x1="339.80" y1="328.30" x2="339.80" y2="332.70" stroke="#111" stroke-width="1.3" />
<line x1="372.60" y1="328.30" x2="372.60" y2="332.70" stroke="#111" stroke-width="1.3" />
<line x1="405.50" y1="328.30" x2="405.50" y2="332.70" stroke="#111" stroke-width="1.3" />
<line x1="438.20" y1="328.30" x2="438.20" y2="332.70" stroke="#111" stroke-width="1.3" />
<line x1="471.00" y1="328.30" x2="471.00" y2="332.70" stroke="#111" stroke-width="1.3" />
<line x1="503.50" y1="328.30" x2="503.50" y2="332.70" stroke="#111" stroke-width="1.3" />
<line x1="322.80" y1="358.78" x2="322.80" y2="491.30" stroke="#111" stroke-width="1.4" />
<line x1="318.20" y1="490.70" x2="322.80" y2="490.70" stroke="#111" stroke-width="1.3" />
<text x="318.10" y="496.60" font-size="15.8" text-anchor="end" font-weight="bold" letter-spacing="0.3">0</text>
<line x1="318.20" y1="471.94" x2="322.80" y2="471.94" stroke="#111" stroke-width="1.3" />
<text x="318.10" y="477.84" font-size="15.8" text-anchor="end" font-weight="bold" letter-spacing="0.3">100</text>
<rect x="290.93" y="475.23" width="3.49" height="3.81" fill="#fff"/>
<rect x="296.49" y="475.23" width="3.39" height="3.81" fill="#fff"/>
<line x1="318.20" y1="453.18" x2="322.80" y2="453.18" stroke="#111" stroke-width="1.3" />
<text x="318.10" y="459.08" font-size="15.8" text-anchor="end" font-weight="bold" letter-spacing="0.3">200</text>
<line x1="318.20" y1="434.42" x2="322.80" y2="434.42" stroke="#111" stroke-width="1.3" />
<text x="318.10" y="440.32" font-size="15.8" text-anchor="end" font-weight="bold" letter-spacing="0.3">300</text>
<line x1="318.20" y1="415.66" x2="322.80" y2="415.66" stroke="#111" stroke-width="1.3" />
<text x="318.10" y="421.56" font-size="15.8" text-anchor="end" font-weight="bold" letter-spacing="0.3">400</text>
<line x1="318.20" y1="396.90" x2="322.80" y2="396.90" stroke="#111" stroke-width="1.3" />
<text x="318.10" y="402.80" font-size="15.8" text-anchor="end" font-weight="bold" letter-spacing="0.3">500</text>
<line x1="318.20" y1="378.14" x2="322.80" y2="378.14" stroke="#111" stroke-width="1.3" />
<text x="318.10" y="384.04" font-size="15.8" text-anchor="end" font-weight="bold" letter-spacing="0.3">600</text>
<line x1="318.20" y1="359.38" x2="322.80" y2="359.38" stroke="#111" stroke-width="1.3" />
<text x="318.10" y="365.28" font-size="15.8" text-anchor="end" font-weight="bold" letter-spacing="0.3">700</text>
<line x1="322.10" y1="490.70" x2="520.00" y2="490.70" stroke="#111" stroke-width="1.9" />
<line x1="339.80" y1="490.70" x2="339.80" y2="495.10" stroke="#111" stroke-width="1.3" />
<line x1="372.60" y1="490.70" x2="372.60" y2="495.10" stroke="#111" stroke-width="1.3" />
<line x1="405.50" y1="490.70" x2="405.50" y2="495.10" stroke="#111" stroke-width="1.3" />
<line x1="438.20" y1="490.70" x2="438.20" y2="495.10" stroke="#111" stroke-width="1.3" />
<line x1="471.00" y1="490.70" x2="471.00" y2="495.10" stroke="#111" stroke-width="1.3" />
<line x1="503.50" y1="490.70" x2="503.50" y2="495.10" stroke="#111" stroke-width="1.3" />
</svg>
</body></html>
